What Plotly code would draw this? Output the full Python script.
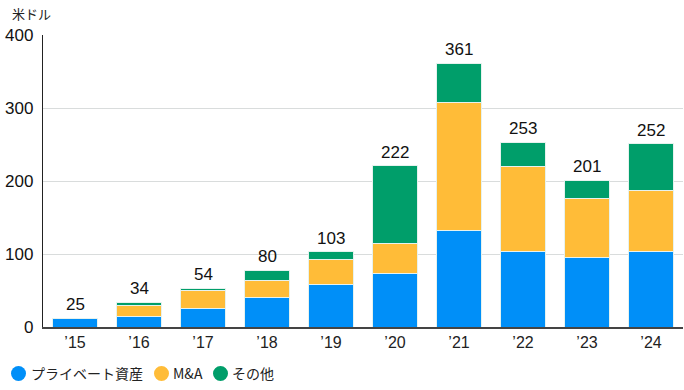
import plotly.graph_objects as go

years = ["’15", "’16", "’17", "’18", "’19", "’20", "’21", "’22", "’23", "’24"]
private_assets = [12, 15, 25, 41, 58, 73, 132, 103, 95, 103]
ma = [0, 14, 25, 23, 35, 41, 175, 117, 81, 84]
other = [0, 5, 3, 14, 10, 107, 54, 33, 25, 64]
totals_label = [25, 34, 54, 80, 103, 222, 361, 253, 201, 252]

names = ["プライベート資産", "M&A", "その他"]
colors = ["#008FF8", "#FFBC38", "#009E6A"]
series = [private_assets, ma, other]

font_family = "Liberation Sans, Arial, Noto Sans CJK JP, sans-serif"

W, H = 684, 390
L, R, T, B = 43, 1, 35, 62.5
PW, PH = W - L - R, H - T - B


def px2paper(px, py):
    return (px - L) / PW, (H - B - py) / PH


fig = go.Figure()
for name, vals, col in zip(names, series, colors):
    fig.add_trace(go.Bar(
        x=years, y=vals, name=name, marker=dict(color=col, line=dict(color="#E6F2EE", width=1)),
        width=0.7, showlegend=False, hoverinfo="skip"))

stack = [a + b + c for a, b, c in zip(private_assets, ma, other)]
for x, s, t in zip(years, stack, totals_label):
    fig.add_annotation(x=x, y=s, text=str(t), showarrow=False, yanchor="bottom", yshift=2,
                       font=dict(size=17, color="#111", family=font_family))

ax, ay = px2paper(10, 13)
fig.add_annotation(xref="paper", yref="paper", x=ax, y=ay, xanchor="left", yanchor="middle",
                   text="米ドル", showarrow=False,
                   font=dict(size=13, color="#222", family="Noto Sans CJK JP"))

# custom legend (circle markers)
legend_items = [(18.5, 29), (161.5, 171), (220.5, 230)]
cy = 374
r = 7.5
for (cx, tx), name, col in zip(legend_items, names, colors):
    x0, y0 = px2paper(cx - r, cy + r)
    x1, y1 = px2paper(cx + r, cy - r)
    fig.add_shape(type="circle", xref="paper", yref="paper", x0=x0, y0=y0, x1=x1, y1=y1,
                  fillcolor=col, line=dict(width=0))
    tpx, tpy = px2paper(tx, cy)
    fig.add_annotation(xref="paper", yref="paper", x=tpx, y=tpy, xanchor="left", yanchor="middle",
                       text=name, showarrow=False, xshift=0,
                       font=dict(size=14, color="#222", family="Noto Sans CJK JP"))

fig.update_layout(
    width=W, height=H,
    margin=dict(l=L, r=R, t=T, b=B, autoexpand=False, pad=0),
    plot_bgcolor="white", paper_bgcolor="white",
    barmode="stack", bargap=0.3, showlegend=False,
    font=dict(family=font_family, color="#111"),
    xaxis=dict(range=[-0.5, 9.5], showgrid=False, ticks="", showline=True, linecolor="#444",
               linewidth=1.5, tickfont=dict(size=16, color="#222"), fixedrange=True,
               automargin=False),
    yaxis=dict(range=[0, 400], dtick=100, showgrid=True, gridcolor="#D9DCDC", gridwidth=1,
               showline=True, linecolor="#222", linewidth=1.3, ticks="", zeroline=False,
               tickfont=dict(size=17, color="#111"), ticklabelstandoff=5, automargin=False),
)

fig.write_html("out.html", config={"displayModeBar": False},
               post_script="document.body.style.margin='0';document.body.style.padding='0';")
